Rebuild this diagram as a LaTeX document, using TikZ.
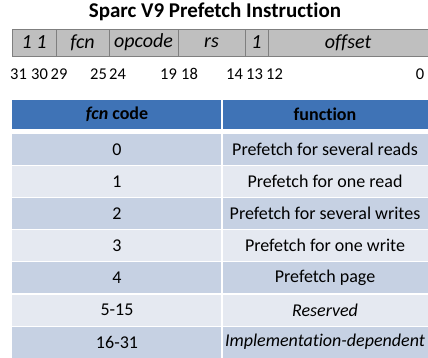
\documentclass[tikz,border=0pt]{standalone}
\usepackage{fontspec}
\setmainfont{Carlito}[Ligatures=NoCommon]
\definecolor{barfill}{HTML}{BFBFBF}
\definecolor{barline}{HTML}{7F7F7F}
\definecolor{headfill}{HTML}{3F73B6}
\definecolor{rowdark}{HTML}{C6D1E3}
\definecolor{rowlight}{HTML}{E5E9F1}
\tikzset{
	field/.style={font=\fontsize{20}{20}\selectfont\itshape,inner sep=0pt},
	bitno/.style={font=\fontsize{16.5}{17}\selectfont,inner sep=0pt},
	cell/.style={font=\fontsize{18}{18}\selectfont,inner sep=0pt},
}
\begin{document}
\begin{tikzpicture}[
		x={(1pt,0pt)},
		y={(0pt,-1pt)},
	]
		\useasboundingbox (0,0) rectangle (428,358);
		\node[anchor=base,inner sep=0pt,font=\bfseries\fontsize{21}{21}\selectfont] (title) at (215,18) {Sparc V9 Prefetch Instruction};
		
		% instruction word
		\foreach \a/\b/\t [count=\i] in {12/56/{1 1}, 56/109/fcn, 109/178/opcode, 178/245/rs, 245/268/1, 268/428/offset}{
			\draw[fill=barfill,draw=barline] (\a,29) rectangle (\b,56);
			\node[field] (f\i) at ({(\a+\b)/2},42.5) {\t};
		}
		\foreach \x/\n in {18.5/31, 39.5/30, 59/29, 98.5/25, 117.5/24, 168.5/19, 189.5/18, 234.5/14, 254.5/13, 274.5/12, 420/0}{
			\node[bitno] (b\n) at (\x,74) {\n};
		}
		
		% fcn table
		\fill[headfill] (12,100) rectangle (221,129);
		\fill[headfill] (223,100) rectangle (428,129);
		\node[cell,font=\bfseries\fontsize{18}{18}\selectfont] (hcode) at (117,114.5) {\textit{fcn} code};
		\node[cell,font=\bfseries\fontsize{18}{18}\selectfont] (hfunc) at (325,114.5) {function};
		\foreach \c/\f [count=\i] in {0/Prefetch for several reads, 1/Prefetch for one read, 2/Prefetch for several writes, 3/Prefetch for one write, 4/Prefetch page, 5-15/\textit{Reserved}, 16-31/\textit{Implementation-dependent}}{
			\pgfmathsetmacro{\t}{134+(\i-1)*32.1}
			\ifodd\i \def\rc{rowdark}\else \def\rc{rowlight}\fi
			\fill[\rc] (12,\t) rectangle (221,\t+31);
			\fill[\rc] (223,\t) rectangle (428,\t+31);
			\node[cell] (c\i) at (117,\t+15.5) {\c};
			\node[cell] (g\i) at (325,\t+15.5) {\f};
		}
	\end{tikzpicture}
\end{document}
